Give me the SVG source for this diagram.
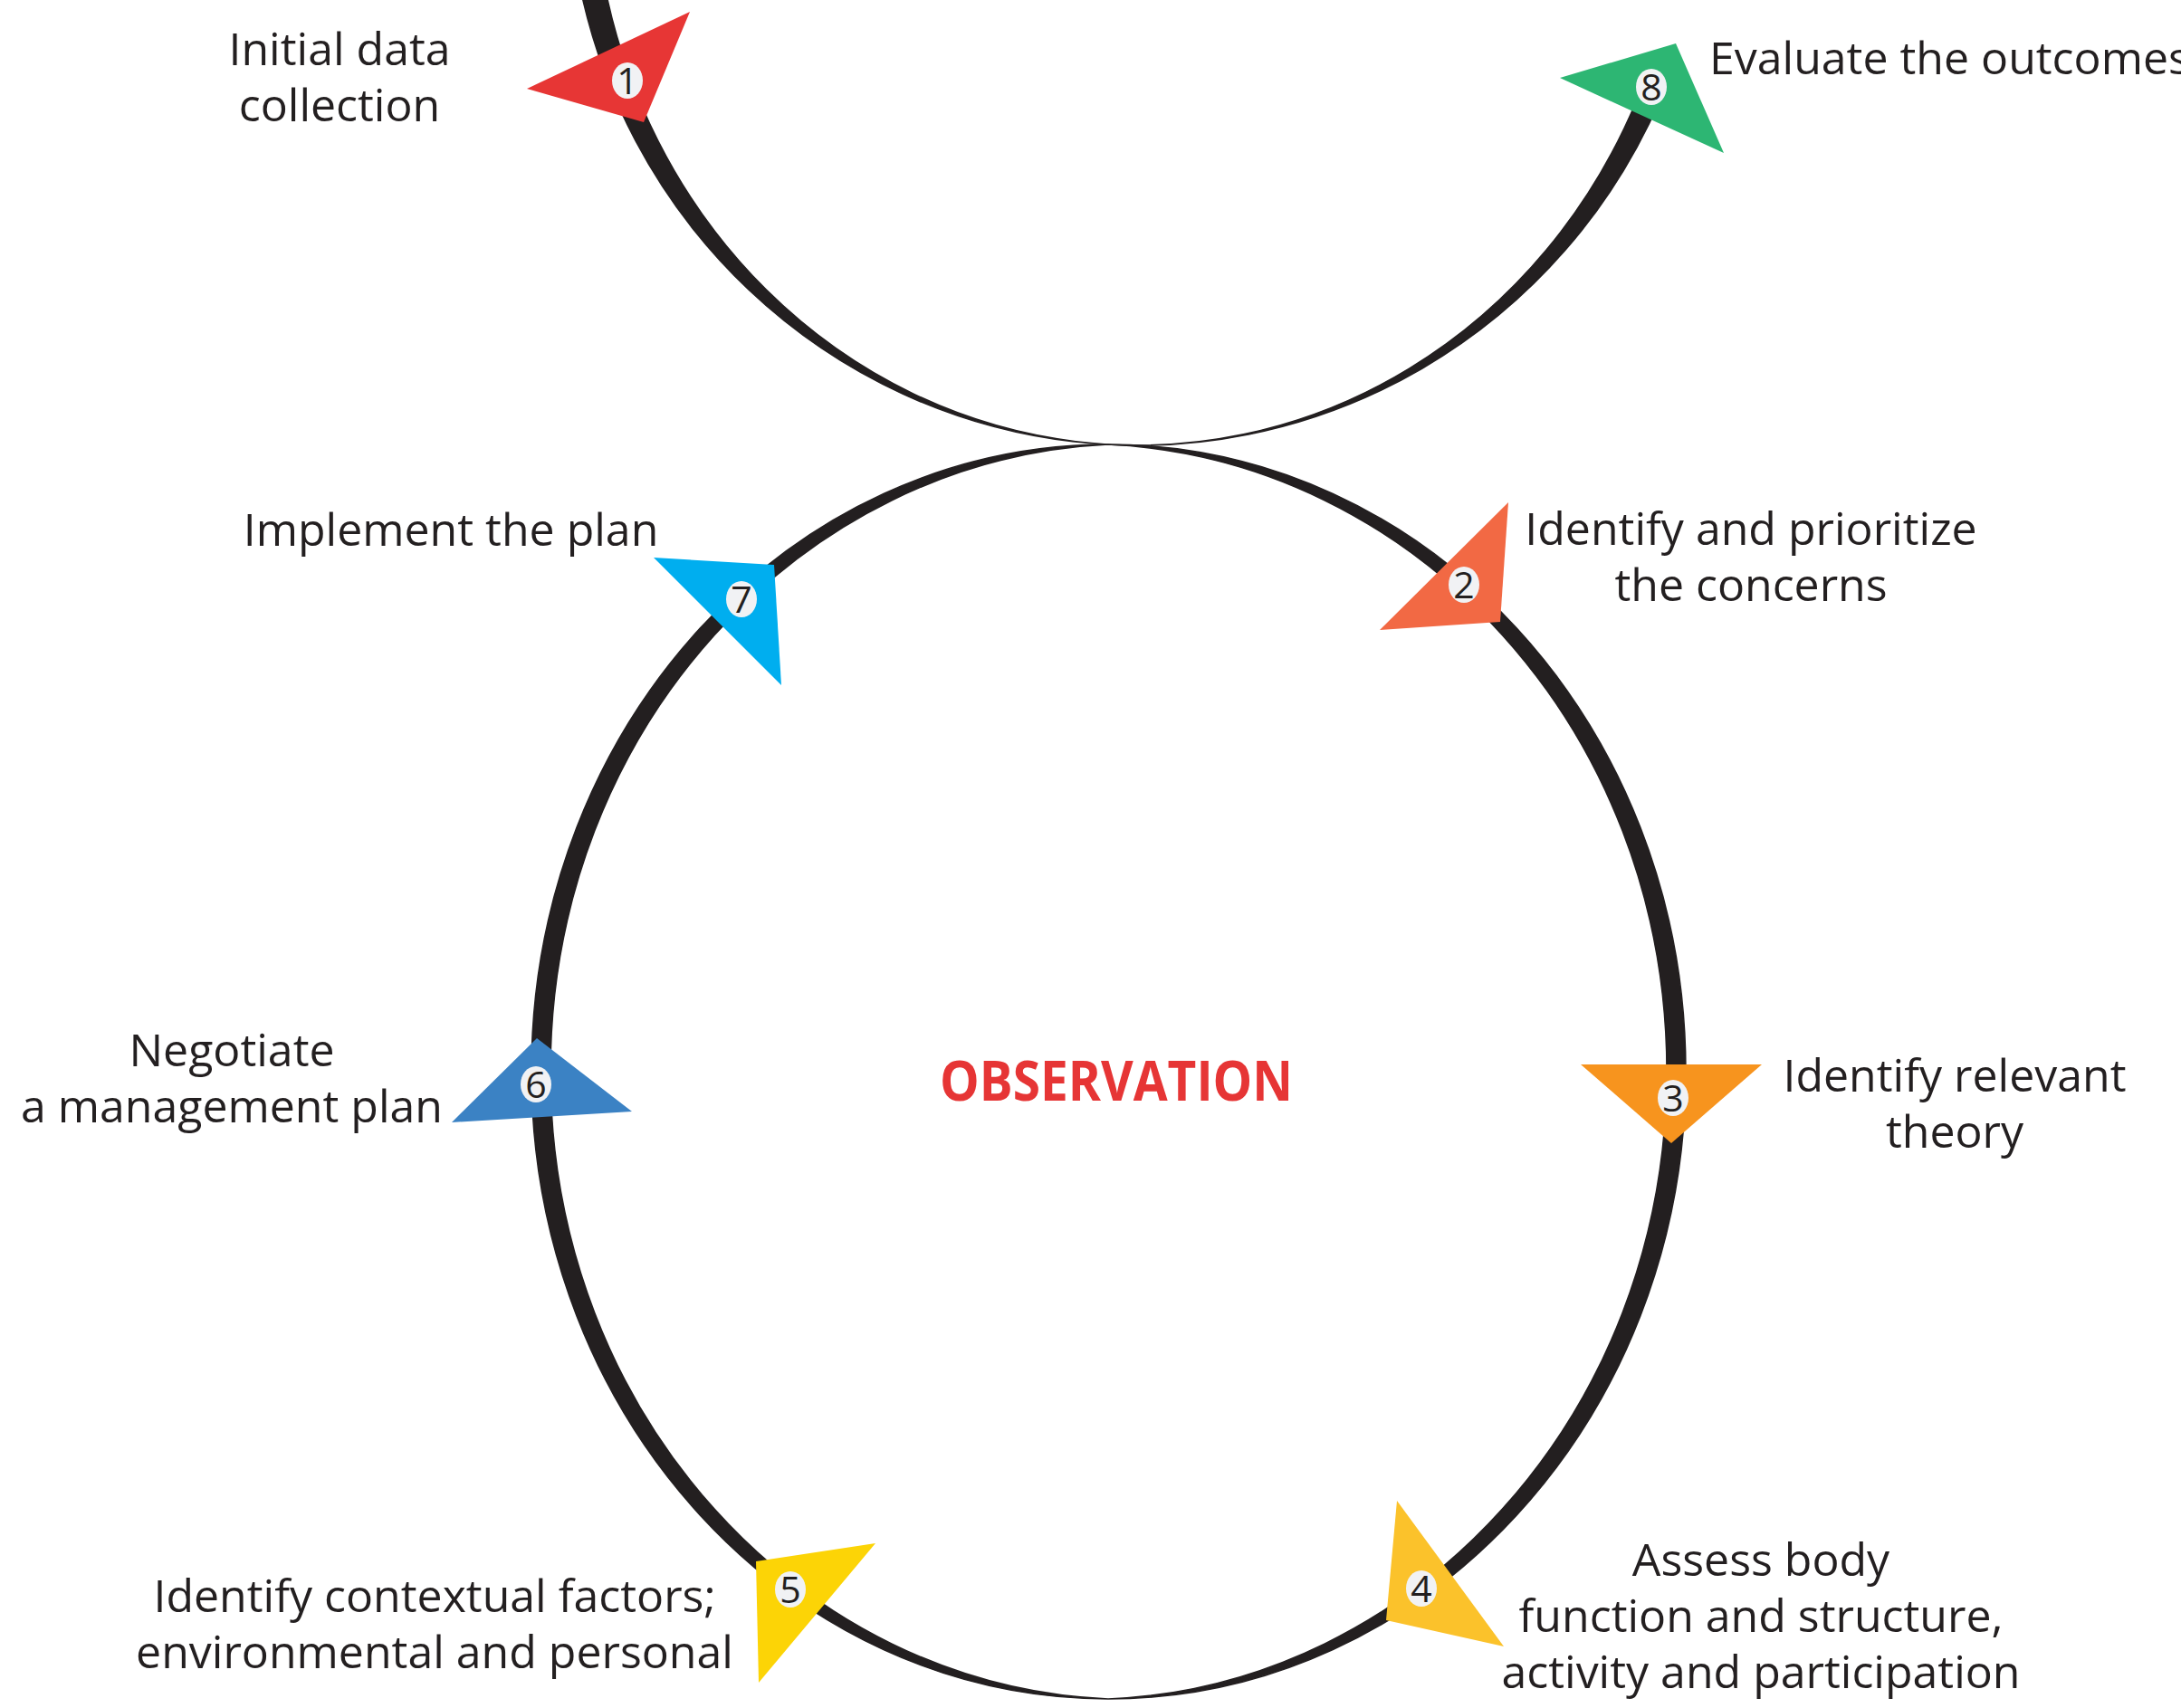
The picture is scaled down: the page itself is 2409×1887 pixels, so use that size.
<svg xmlns="http://www.w3.org/2000/svg" width="2409" height="1887" viewBox="0 0 2409 1887">
<style>
.lbl{font-family:"Open Sans","Liberation Sans",sans-serif;font-size:50px;fill:#231F20;}
.mid{text-anchor:middle;}
.num{font-family:"Open Sans","Liberation Sans",sans-serif;font-size:41px;fill:#231F20;text-anchor:middle;}
.badge{fill:#F1F2F4;}
.ring{fill:#231F20;fill-rule:evenodd;stroke:#231F20;stroke-width:1.5;}
.title{font-family:"Open Sans","Liberation Sans",sans-serif;font-weight:bold;font-size:60px;fill:#E63535;text-anchor:middle;}
</style>
<rect width="2409" height="1887" fill="#FFFFFF"/>
<g id="connectors">
<path class="ring" d="M 637.6,-30 A 630 639 0 0 0 1833.8,110 L 1808.1,110 A 602 639 0 0 1 665.2,-30 Z"/>
<path class="ring" d="M 1224,491 C 1576,491 1862,801 1862,1184 C 1862,1567 1576,1877 1224,1877 C 872,1877 587,1567 587,1184 C 587,801 872,491 1224,491 Z M 1224,491 C 1562,507 1841,805 1841,1184 C 1841,1563 1562,1863 1224,1877 C 886,1863 608,1563 608,1184 C 608,805 886,507 1224,491 Z"/>
</g>
<text class="title" x="1233" y="1216" textLength="390" lengthAdjust="spacingAndGlyphs">OBSERVATION</text>
<g id="step1">
<polygon points="582,98 762,13 711,135" fill="#E73635"/>
<ellipse class="badge" cx="693" cy="89" rx="17" ry="20"/>
<text class="num" x="693" y="104">1</text>
<text class="lbl mid" x="375" y="72">Initial data</text>
<text class="lbl mid" x="375" y="134">collection</text>
</g>
<g id="step2">
<polygon points="1666,555 1657,687 1524,696" fill="#F26944"/>
<ellipse class="badge" cx="1617" cy="646" rx="17" ry="20"/>
<text class="num" x="1617" y="661">2</text>
<text class="lbl mid" x="1934" y="602">Identify and prioritize</text>
<text class="lbl mid" x="1934" y="664">the concerns</text>
</g>
<g id="step3">
<polygon points="1746,1176 1946,1176 1846,1263" fill="#F7941E"/>
<ellipse class="badge" cx="1848" cy="1213" rx="17" ry="20"/>
<text class="num" x="1848" y="1228">3</text>
<text class="lbl mid" x="2159" y="1206">Identify relevant</text>
<text class="lbl mid" x="2159" y="1268">theory</text>
</g>
<g id="step4">
<polygon points="1543,1658 1661,1819 1531,1790" fill="#FBC22B"/>
<ellipse class="badge" cx="1570" cy="1755" rx="17" ry="20"/>
<text class="num" x="1570" y="1770">4</text>
<text class="lbl mid" x="1945" y="1741">Assess body</text>
<text class="lbl mid" x="1945" y="1803">function and structure,</text>
<text class="lbl mid" x="1945" y="1865">activity and participation</text>
</g>
<g id="step5">
<polygon points="835,1725 967,1705 838,1859" fill="#FCD406"/>
<ellipse class="badge" cx="873" cy="1756" rx="17" ry="20"/>
<text class="num" x="873" y="1771">5</text>
<text class="lbl mid" x="480" y="1781">Identify contextual factors;</text>
<text class="lbl mid" x="480" y="1843">environmental and personal</text>
</g>
<g id="step6">
<polygon points="593,1147 698,1228 499,1240" fill="#3B82C4"/>
<ellipse class="badge" cx="592" cy="1198" rx="17" ry="20"/>
<text class="num" x="592" y="1213">6</text>
<text class="lbl mid" x="256" y="1178">Negotiate</text>
<text class="lbl mid" x="256" y="1240">a management plan</text>
</g>
<g id="step7">
<polygon points="722,616 855,624 863,757" fill="#00AEEF"/>
<ellipse class="badge" cx="819" cy="662" rx="17" ry="20"/>
<text class="num" x="819" y="677">7</text>
<text class="lbl mid" x="498" y="603">Implement the plan</text>
</g>
<g id="step8">
<polygon points="1723,86 1851,48 1904,169" fill="#2DB673"/>
<ellipse class="badge" cx="1824" cy="96" rx="17" ry="20"/>
<text class="num" x="1824" y="111">8</text>
<text class="lbl" x="1888" y="82">Evaluate the outcomes</text>
</g>
</svg>
